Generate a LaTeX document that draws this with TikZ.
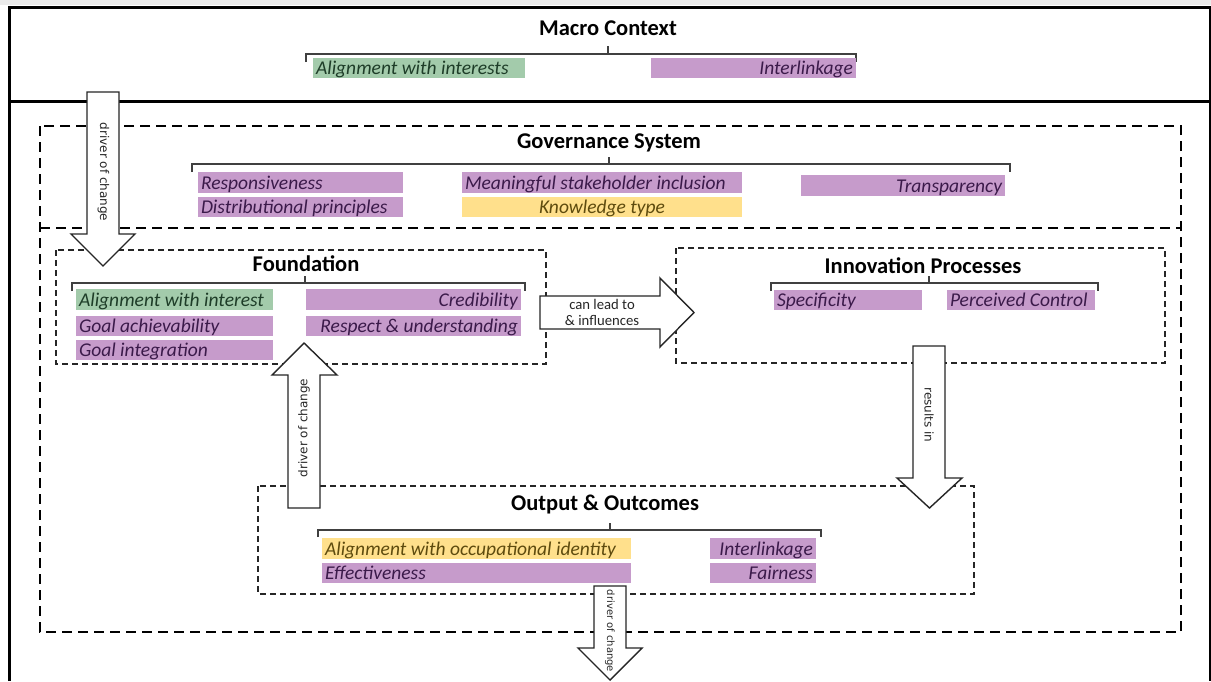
\documentclass[tikz,border=0pt]{standalone}
\usepackage{fontspec}
\setmainfont{Carlito}
\newfontfamily\arrowfont{DejaVu Sans}
\begin{document}
\definecolor{tgreen}{HTML}{A3CBAB}
\definecolor{tgreentxt}{HTML}{1E3D28}
\definecolor{tpurple}{HTML}{C69BCB}
\definecolor{tpurpletxt}{HTML}{3B1A4A}
\definecolor{tyellow}{HTML}{FFE08C}
\definecolor{tyellowtxt}{HTML}{5E4B0E}
\begin{tikzpicture}[x=1pt,y=-1pt,
  frame/.style={line width=3pt, black},
  bigdash/.style={line width=2.2pt, dash pattern=on 10pt off 6pt, black},
  smalldash/.style={line width=1.5pt, dash pattern=on 6pt off 4pt, black!85},
  brace/.style={line width=1.3pt, black!75},
  heading/.style={font=\fontsize{22.5}{26}\selectfont\bfseries, inner sep=0pt},
  tag/.style={rectangle, inner xsep=3pt, inner ysep=0pt, minimum height=20.5pt,
    text height=16pt, text depth=3pt, font=\fontsize{19.5}{22}\selectfont\itshape,
    execute at begin node={\hyphenpenalty=10000\exhyphenpenalty=10000}},
  gtag/.style={tag, fill=tgreen, text=tgreentxt},
  ptag/.style={tag, fill=tpurple, text=tpurpletxt},
  ytag/.style={tag, fill=tyellow, text=tyellowtxt},
  barrow/.style={draw=black!85, line width=1.4pt, fill=white, line join=miter},
  arrtxt/.style={font=\arrowfont\fontsize{12}{14}\selectfont, text=black!85, inner sep=0pt},
  leadtxt/.style={font=\fontsize{14.7}{17}\selectfont, text=black!85, align=center, inner sep=0pt}
]
\useasboundingbox (0,0) rectangle (1211,681);
\fill[white] (0,0) rectangle (1211,681);
\fill[black!8] (0,0) rectangle (1211,5);

% outer frame and macro-context divider
\draw[frame] (9,681) -- (9,7) -- (1211,7);
\draw[frame] (1210,7) -- (1210,681);
\draw[frame] (9,101) -- (1211,101);

% dashed containers
\draw[bigdash] (40,126) rectangle (1181,632);
\draw[bigdash] (40,228) -- (1181,228);
\draw[smalldash] (56,250) rectangle (546,364);
\draw[smalldash] (676,248) rectangle (1165,363);
\draw[smalldash] (258,486) rectangle (974,594);

% ---------- Macro Context ----------
\node[heading] (mc) at (608,28) {Macro Context};
\draw[brace] (306,62) -- (306,54) -- (856,54) -- (856,62);
\draw[brace] (608,54) -- (608,46);
\node[gtag, text width=206pt, align=flush left] (mcA) at (419,68) {Alignment with interests};
\node[ptag, text width=199pt, align=flush right] (mcI) at (753.5,68) {Interlinkage};

% ---------- Governance System ----------
\node[heading] (gs) at (609,143) {Governance System};
\draw[brace] (192,172) -- (192,164) -- (1010,164) -- (1010,172);
\draw[brace] (609,164) -- (609,157);
\node[ptag, text width=199pt, align=flush left] (gsR) at (300.5,182.5) {Responsiveness};
\node[ptag, text width=199pt, align=flush left] (gsD) at (300.5,207) {Distributional principles};
\node[ptag, text width=274pt, align=flush left] (gsM) at (602,182.5) {Meaningful stakeholder inclusion};
\node[ytag, text width=274pt, align=flush center] (gsK) at (602,207) {Knowledge type};
\node[ptag, text width=198pt, align=flush right] (gsT) at (903,185.5) {Transparency};

% ---------- Foundation ----------
\node[heading] (fd) at (306,264) {Foundation};
\draw[brace] (72,291) -- (72,283) -- (525,283) -- (525,291);
\draw[brace] (305,283) -- (305,276);
\node[gtag, text width=191pt, align=flush left] (fdA) at (174.5,299.5) {Alignment with interest};
\node[ptag, text width=191pt, align=flush left] (fdG) at (174.5,326) {Goal achievability};
\node[ptag, text width=191pt, align=flush left] (fdI) at (174.5,350) {Goal integration};
\node[ptag, text width=209pt, align=flush right] (fdC) at (413.5,299.5) {Credibility};
\node[ptag, text width=209pt, align=flush right] (fdR) at (413.5,326) {Respect \& understanding};

% ---------- Innovation Processes ----------
\node[heading] (ip) at (923,266) {Innovation Processes};
\draw[brace] (771,291) -- (771,283) -- (1098,283) -- (1098,291);
\draw[brace] (929,283) -- (929,276);
\node[ptag, text width=142pt, align=flush left] (ipS) at (848,300) {Specificity};
\node[ptag, text width=142pt, align=flush left] (ipP) at (1021,300) {Perceived Control};

% ---------- Output & Outcomes ----------
\node[heading] (oo) at (605,504) {Output \& Outcomes};
\draw[brace] (318,537) -- (318,530) -- (821,530) -- (821,537);
\draw[brace] (610,530) -- (610,523);
\node[ytag, text width=303pt, align=flush left] (ooA) at (476.5,548.5) {Alignment with occupational identity};
\node[ptag, text width=303pt, align=flush left] (ooE) at (476.5,573) {Effectiveness};
\node[ptag, text width=100pt, align=flush right] (ooI) at (763,548.5) {Interlinkage};
\node[ptag, text width=100pt, align=flush right] (ooF) at (763,573) {Fairness};

% ---------- block arrows ----------
% macro context -> foundation
\draw[barrow] (87,92) -- (119,92) -- (119,234) -- (135,234) -- (103,266)
  -- (71,234) -- (87,234) -- cycle;
\node[arrtxt, rotate=-90] (a1) at (103.5,172) {driver of change};

% foundation -> innovation processes
\draw[barrow] (540,296) -- (660,296) -- (660,278) -- (694,312.5)
  -- (660,347) -- (660,329) -- (540,329) -- cycle;
\node[leadtxt] (a2) at (602,312) {can lead to\\[-1pt]\& influences};

% innovation processes -> output & outcomes
\draw[barrow] (913,346) -- (945,346) -- (945,478) -- (962,478) -- (929.5,508)
  -- (897,478) -- (913,478) -- cycle;
\node[arrtxt, rotate=-90] (a3) at (929,415) {results in};

% output & outcomes -> foundation
\draw[barrow] (288,508) -- (320,508) -- (320,375) -- (337,375) -- (304,343)
  -- (272,375) -- (288,375) -- cycle;
\node[arrtxt, rotate=90] (a4) at (304,428) {driver of change};

% output & outcomes -> beyond
\draw[barrow] (594,586) -- (626,586) -- (626,648) -- (642,648) -- (610,680)
  -- (578,648) -- (594,648) -- cycle;
\node[arrtxt, rotate=-90, font=\arrowfont\fontsize{10}{12}\selectfont] (a5) at (610,631) {driver of change};
\end{tikzpicture}
\end{document}
